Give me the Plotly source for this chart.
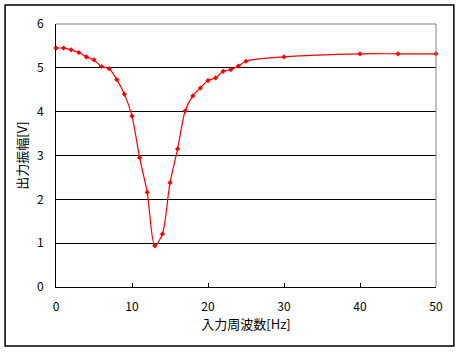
import plotly.graph_objects as go

freq = [0, 1, 2, 3, 4, 5, 6, 7, 8, 9, 10, 11, 12, 13, 14, 15, 16, 17, 18, 19,
        20, 21, 22, 23, 24, 25, 30, 40, 45, 50]
amp = [5.45, 5.45, 5.41, 5.35, 5.25, 5.18, 5.03, 4.98, 4.73, 4.40, 3.90, 2.95,
       2.16, 0.94, 1.21, 2.38, 3.15, 4.02, 4.36, 4.54, 4.71, 4.77, 4.92, 4.96,
       5.04, 5.15, 5.25, 5.32, 5.32, 5.32]
x_ticks = [0, 10, 20, 30, 40, 50]
y_ticks = [0, 1, 2, 3, 4, 5, 6]

FONT = "Noto Sans CJK JP"

fig = go.Figure()
fig.add_trace(go.Scatter(
    x=freq, y=amp, mode="lines+markers",
    line=dict(color="#ff0000", width=1.2, shape="spline", smoothing=0.8),
    marker=dict(color="#ff0000", symbol="diamond", size=4),
    showlegend=False, cliponaxis=False,
))

fig.update_layout(
    width=461, height=352,
    margin=dict(l=56, r=25, t=24, b=65),
    paper_bgcolor="white", plot_bgcolor="white",
    font=dict(family=FONT, size=12, color="black"),
    xaxis=dict(
        range=[0, 50], tickvals=x_ticks, showgrid=False, zeroline=False,
        showline=True, linecolor="black", linewidth=1,
        ticks="inside", ticklen=4, tickcolor="black",
        ticklabelstandoff=9,
        title=dict(text="入力周波数[Hz]", font=dict(family=FONT, size=13), standoff=6),
        tickfont=dict(family=FONT, size=12),
    ),
    yaxis=dict(
        range=[0, 6], tickvals=y_ticks, showgrid=True, gridcolor="black",
        gridwidth=1, zeroline=False,
        showline=True, linecolor="black", linewidth=1, ticks="",
        ticklabelstandoff=9,
        title=dict(text="出力振幅[V]", font=dict(family=FONT, size=13), standoff=6),
        tickfont=dict(family=FONT, size=12),
    ),
    shapes=[
        dict(type="line", xref="paper", yref="paper", x0=0, x1=1, y0=1, y1=1,
             line=dict(color="#808080", width=1)),
        dict(type="line", xref="paper", yref="paper", x0=1, x1=1, y0=0, y1=1,
             line=dict(color="#808080", width=1)),
        dict(type="rect", xref="paper", yref="paper",
             x0=-0.134, x1=1.047, y0=-0.224, y1=1.072,
             line=dict(color="black", width=1.5), layer="below"),
    ],
)

fig.write_html("out.html")
